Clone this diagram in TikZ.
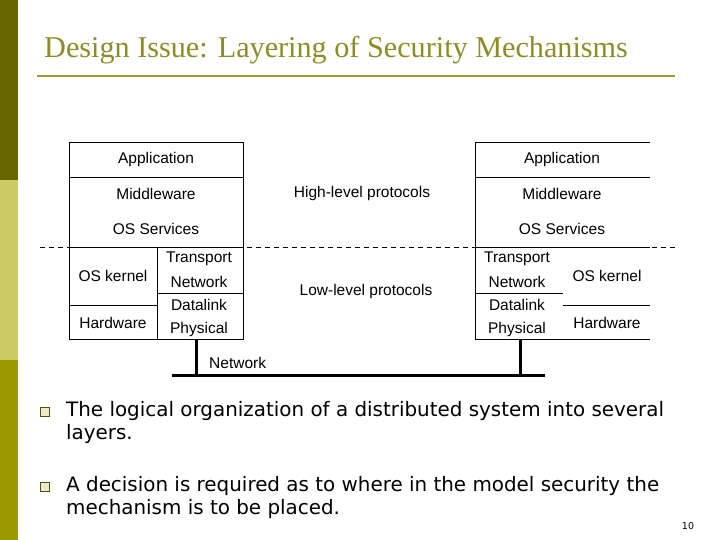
\documentclass[tikz,border=0pt]{standalone}
\usepackage{fontspec}
\setmainfont{Liberation Serif}
\newfontfamily\arial{Liberation Sans}
\newfontfamily\tahoma{DejaVu Sans}
\definecolor{barA}{RGB}{102,102,0}
\definecolor{barB}{RGB}{204,204,102}
\definecolor{barC}{RGB}{153,153,0}
\definecolor{rule}{RGB}{153,153,51}
\definecolor{ttl}{RGB}{140,140,40}
\definecolor{sqf}{RGB}{235,235,200}
\definecolor{sqd}{RGB}{80,80,20}
\begin{document}
\begin{tikzpicture}[x=1pt,y=-1pt,
  lab/.style={font=\arial\fontsize{15.5}{17}\selectfont,inner sep=0pt},
  bul/.style={font=\tahoma\fontsize{19.9}{23}\selectfont,anchor=west,align=left,inner sep=0pt},
  sq/.style={draw=sqd,fill=sqf,line width=1.2pt,minimum size=9pt,inner sep=0pt},
  ln/.style={line width=0.7pt}]
\useasboundingbox (0,0) rectangle (720,540);
\fill[white] (0,0) rectangle (720,540);
\fill[barA] (0,0) rectangle (18,180);
\fill[barB] (0,180) rectangle (18,360);
\fill[barC] (0,360) rectangle (18,540);
\node[anchor=west,inner sep=0pt,text=ttl,font=\fontsize{30.2}{34}\selectfont] (title) at (44,50) {Design Issue: Layering of Security Mechanisms};
\draw[line width=2pt,rule] (37,76) -- (675,76);
% dashed line
\draw[ln,dash pattern=on 5pt off 4pt] (40,247) -- (675,247);
% left stack
\draw[ln] (69,142) rectangle (243,339);
\draw[ln] (69,177) -- (243,177);
\draw[ln] (69,247) -- (243,247);
\draw[ln] (157,247) -- (157,339);
\draw[ln] (69,305) -- (157,305);
\draw[ln] (157,293) -- (243,293);
\node[lab] (la) at (156,159) {Application};
\node[lab] (lm) at (156,194) {Middleware};
\node[lab] (ls) at (156,229) {OS Services};
\node[lab] (lk) at (113,276) {OS kernel};
\node[lab] (lh) at (113,323) {Hardware};
\node[lab] (lt) at (199,259) {Transport};
\node[lab] (ln) at (199,282) {Network};
\node[lab] (ld) at (199,305) {Datalink};
\node[lab] (lp) at (199,329) {Physical};
% right stack
\draw[ln] (650,142) -- (475,142) -- (475,339) -- (650,339);
\draw[ln] (475,177) -- (650,177);
\draw[ln] (475,247) -- (650,247);
\draw[ln] (475,293) -- (563,293);
\draw[ln] (563,305) -- (650,305);
\node[lab] (ra) at (562,159) {Application};
\node[lab] (rm) at (562,194) {Middleware};
\node[lab] (rs) at (562,229) {OS Services};
\node[lab] (rk) at (607,276) {OS kernel};
\node[lab] (rh) at (607,323) {Hardware};
\node[lab] (rt) at (517,259) {Transport};
\node[lab] (rn) at (517,282) {Network};
\node[lab] (rd) at (517,305) {Datalink};
\node[lab] (rp) at (517,329) {Physical};
\node[lab] (hl) at (362,193) {High-level protocols};
\node[lab] (ll) at (366,291) {Low-level protocols};
% network
\coordinate (nl) at (172,375);
\coordinate (nr) at (545,375);
\draw[line width=3pt] (nl) -- (nr);
\draw[line width=3pt] (196,339) -- (196,375);
\draw[line width=3pt] (520,339) -- (520,375);
\node[lab,anchor=west] (net) at (209,363) {Network};
% bullets
\node[sq] (b1) at (45,412) {};
\node[bul] (t1) at (66,423) {The logical organization of a distributed system into several\\layers.};
\node[sq] (b2) at (45,487) {};
\node[bul] (t2) at (66,498) {A decision is required as to where in the model security the\\mechanism is to be placed.};
\node[font=\tahoma\fontsize{9.5}{10}\selectfont,inner sep=0pt] (pg) at (688,526) {10};
\end{tikzpicture}
\end{document}
